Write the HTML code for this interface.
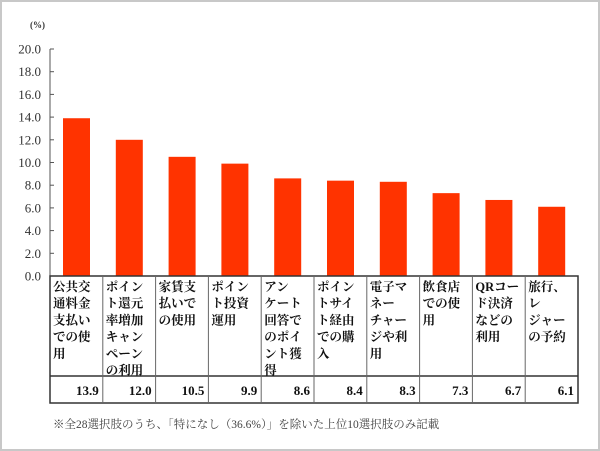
<!DOCTYPE html>
<html><head><meta charset="utf-8">
<style>
body{margin:0;background:#fff;}
#wrap{position:relative;width:600px;height:451px;overflow:hidden;font-family:"Liberation Serif","Noto Serif CJK SC","Noto Sans CJK JP",serif;}
#frame{position:absolute;left:0;top:0;width:596px;height:447px;border:2px solid #c8c8c8;}
svg text{font-family:"Liberation Serif","Noto Serif CJK SC","Noto Sans CJK JP",serif;}
</style></head>
<body>
<div id="wrap">
<div id="frame"></div>
<svg id="chart" width="600" height="451"></svg>
</div>
<script>
const categories=[["公共交","通料金","支払い","での使","用"],["ポイン","ト還元","率増加","キャン","ペーン","の利用"],["家賃支","払いで","の使用"],["ポイン","ト投資","運用"],["アン","ケート","回答で","のポイ","ント獲","得"],["ポイン","トサイ","ト経由","での購","入"],["電子マ","ネー","チャー","ジや利","用"],["飲食店","での使","用"],["QRコー","ド決済","などの","利用"],["旅行、","レ","ジャー","の予約"]];
const values=[13.9,12.0,10.5,9.9,8.6,8.4,8.3,7.3,6.7,6.1];
const valueLabels=["13.9","12.0","10.5","9.9","8.6","8.4","8.3","7.3","6.7","6.1"];
const ticks=[0,2,4,6,8,10,12,14,16,18,20];
const svg=document.getElementById('chart');
const NS='http://www.w3.org/2000/svg';
const x0=50,x1=578,y0=276,yTop=49,yMax=20;
const colW=(x1-x0)/values.length;
function yScale(v){return y0-(v/yMax)*(y0-yTop);}
function xCol(i){return x0+i*colW;}
function mk(tag,attrs,text){const e=document.createElementNS(NS,tag);for(const k in attrs)e.setAttribute(k,attrs[k]);if(text!==undefined)e.textContent=text;svg.appendChild(e);return e;}
// unit
let u=mk('text',{x:30,y:28,'font-size':9,'font-weight':'bold',fill:'#333'},'(%)');


// axis line
let ax=mk('line',{x1:x0,y1:yTop,x2:x0,y2:y0,stroke:'#555','stroke-width':1});


ticks.forEach(t=>{
  const y=yScale(t);
  let tk=mk('line',{x1:x0,y1:y,x2:x0+4,y2:y,stroke:'#555','stroke-width':1});
  
  
  let tl=mk('text',{x:41,y:y+4.5,'font-size':13,'text-anchor':'end',fill:'#333'},t.toFixed(1));
  
  
});
values.forEach((v,i)=>{
  const x=xCol(i)+13;
  let b=mk('rect',{x:x,y:yScale(v),width:27,height:y0-yScale(v),fill:'#ff3300'});
  
  
});
// table
const tLab=376,tBot=403;
let tb=mk('rect',{x:x0,y:y0,width:x1-x0,height:tBot-y0,fill:'none',stroke:'#333','stroke-width':1.5});


let hl=mk('line',{x1:x0,y1:tLab,x2:x1,y2:tLab,stroke:'#333','stroke-width':1.5});


for(let i=1;i<values.length;i++){
  let vl=mk('line',{x1:xCol(i),y1:y0,x2:xCol(i),y2:tBot,stroke:'#666','stroke-width':1});
  
  
}
categories.forEach((lines,i)=>{
  lines.forEach((s,j)=>{
    let t=mk('text',{x:xCol(i)+3,y:291+j*16.7,'font-size':12.5,'font-weight':'bold',fill:'#111'},s);
    
    
  });
  let vt=mk('text',{x:xCol(i+1)-4,y:395,'font-size':13,'font-weight':'bold','text-anchor':'end',fill:'#111'},valueLabels[i]);
  
  
});
let note=mk('text',{x:53,y:428,'font-size':11.5,fill:'#444'},'※全28選択肢のうち、「特になし（36.6%）」を除いた上位10選択肢のみ記載');


</script>
</body></html>
